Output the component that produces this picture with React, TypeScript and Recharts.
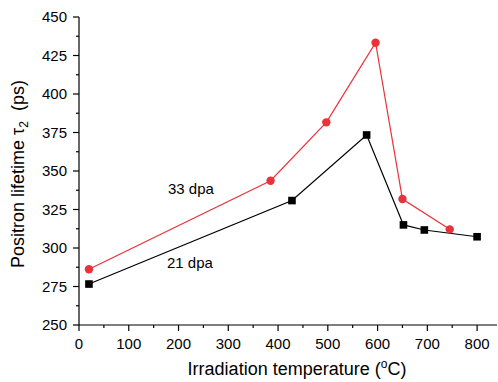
import React from 'react';
import { LineChart, Line, XAxis, YAxis } from 'recharts';

const temps33 = [20, 385, 497, 596, 650, 745];
const tau33 = [286.2, 343.7, 381.6, 433.3, 331.8, 312.1];
const temps21 = [20, 428, 578, 652, 694, 800];
const tau21 = [276.6, 330.8, 373.4, 315.0, 311.7, 307.3];

const xTicks = [0, 50, 100, 150, 200, 250, 300, 350, 400, 450, 500, 550, 600, 650, 700, 750, 800];
const yTicks = [250, 262.5, 275, 287.5, 300, 312.5, 325, 337.5, 350, 362.5, 375, 387.5, 400, 412.5, 425, 437.5, 450];

const data33 = temps33.map((x, i) => ({ x, y: tau33[i] }));
const data21 = temps21.map((x, i) => ({ x, y: tau21[i] }));

const RED = '#e8333a';
const FONT = 'Liberation Sans, Arial, Helvetica, sans-serif';

const YTick = (props: any) => {
  const { x, y, payload } = props;
  const v = payload.value;
  const major = Math.abs(v % 25) < 1e-6;
  const axisX = x + 12;
  return (
    <g>
      <line x1={axisX - (major ? 6 : 3)} x2={axisX} y1={y} y2={y} stroke="#000" strokeWidth={1.2} />
      {major && (
        <text x={x} y={y} dy="0.355em" textAnchor="end" fontSize={15} fontFamily={FONT} fill="#000">
          {v}
        </text>
      )}
    </g>
  );
};

const XTick = (props: any) => {
  const { x, y, payload } = props;
  const v = payload.value;
  const major = v % 100 === 0;
  const axisY = y - 13;
  return (
    <g>
      <line x1={x} x2={x} y1={axisY} y2={axisY + (major ? 6 : 3)} stroke="#000" strokeWidth={1.2} />
      {major && (
        <text x={x} y={y} dy="0.71em" textAnchor="middle" fontSize={15} fontFamily={FONT} fill="#000">
          {v}
        </text>
      )}
    </g>
  );
};

const RedDot = (props: any) => {
  const { cx, cy } = props;
  return <circle cx={cx} cy={cy} r={4.2} fill={RED} stroke="none" />;
};

const BlackDot = (props: any) => {
  const { cx, cy } = props;
  return <rect x={cx - 3.8} y={cy - 3.8} width={7.6} height={7.6} fill="#000" stroke="none" />;
};

export default function App() {
  return (
    <div style={{ position: 'absolute', left: 0, top: 0, width: 498, height: 382, overflow: 'hidden', background: '#fff' }}>
      <LineChart width={498} height={382} data={data33} margin={{ top: 17, right: 1, bottom: 0, left: 0 }}>
        <XAxis
          type="number"
          dataKey="x"
          domain={[0, 840]}
          ticks={xTicks}
          interval={0}
          allowDataOverflow
          height={57}
          tickSize={6}
          tickMargin={7}
          tickLine={false}
          tick={<XTick />}
          axisLine={{ stroke: '#000', strokeWidth: 1.2 }}
        />
        <YAxis
          type="number"
          dataKey="y"
          domain={[250, 450]}
          ticks={yTicks}
          interval={0}
          width={79}
          tickSize={6}
          tickMargin={6}
          tickLine={false}
          tick={<YTick />}
          axisLine={{ stroke: '#000', strokeWidth: 1.2 }}
        />
        <Line
          data={data33}
          dataKey="y"
          type="linear"
          stroke={RED}
          strokeWidth={1.2}
          dot={<RedDot />}
          activeDot={false}
          isAnimationActive={false}
        />
        <Line
          data={data21}
          dataKey="y"
          type="linear"
          stroke="#000"
          strokeWidth={1.2}
          dot={<BlackDot />}
          activeDot={false}
          isAnimationActive={false}
        />
        <text x={168} y={194} fontSize={15} fontFamily={FONT} fill="#000">33 dpa</text>
        <text x={167} y={268} fontSize={15} fontFamily={FONT} fill="#000">21 dpa</text>
        <text
          x={297}
          y={375}
          textAnchor="middle"
          fontSize={18}
          fontFamily={FONT}
          fill="#000"
        >
          Irradiation temperature (<tspan fontSize={12} dy={-7}>o</tspan><tspan dy={7}>C)</tspan>
        </text>
        <text
          x={24}
          y={174}
          textAnchor="middle"
          fontSize={18}
          fontFamily={FONT}
          fill="#000"
          transform="rotate(-90 24 174)"
        >
          Positron lifetime τ<tspan fontSize={12} dy={4}>2</tspan><tspan dy={-4}>{'\u00a0\u00a0(ps)'}</tspan>
        </text>
      </LineChart>
    </div>
  );
}
